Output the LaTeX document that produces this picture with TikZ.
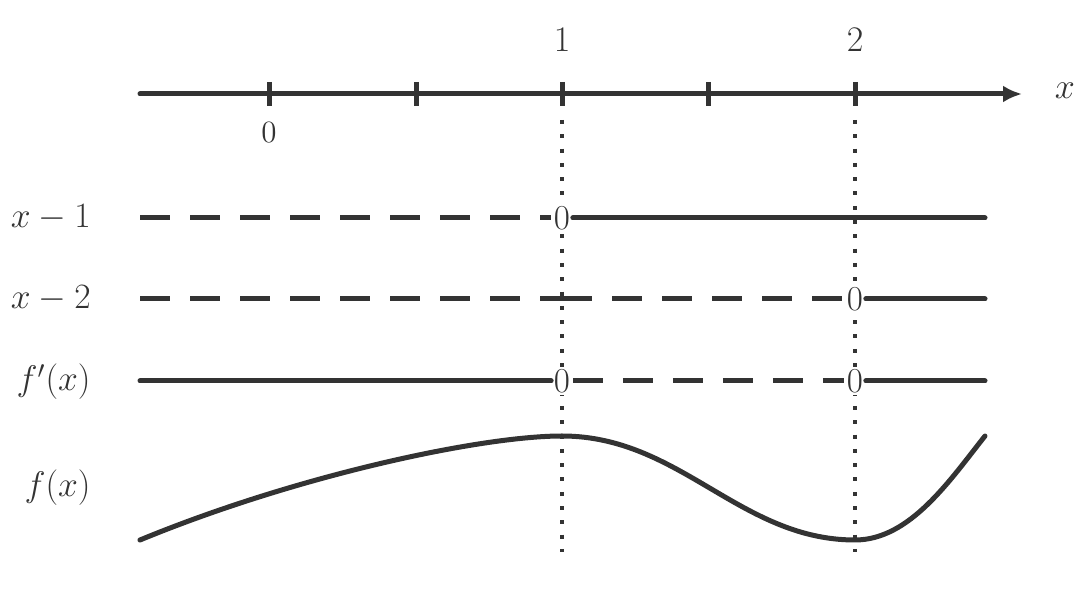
\RequirePackage{fix-cm}
\documentclass[tikz,border=0pt]{standalone}
\usetikzlibrary{arrows.meta}
\definecolor{ink}{HTML}{333333}
\begin{document}
\begin{tikzpicture}[x=0.5pt,y=-0.5pt, color=ink, text=ink,
  solidline/.style={line width=2.5pt, line cap=round},
  dashline/.style={line width=2.5pt, dash pattern=on 15pt off 10pt},
  dotline/.style={line width=2pt, dash pattern=on 2pt off 5.15pt},
  tickline/.style={line width=2.5pt},
  zero/.style={fill=white, inner sep=1.2pt, font=\fontsize{17.5}{20}\selectfont},
  rowlabel/.style={anchor=east, inner sep=0pt, font=\fontsize{17.8}{21}\selectfont},
  toplabel/.style={inner sep=0pt, font=\fontsize{18}{22}\selectfont},
  smalllabel/.style={inner sep=0pt, font=\fontsize{15.5}{18}\selectfont}]
\useasboundingbox (0,0) rectangle (1088,592);

% axis
\coordinate (ax0) at (140,94);
\coordinate (ax1) at (1022,94);
\draw[solidline, -{Latex[length=9.5pt,width=8.5pt]}] (ax0) -- (ax1);
\node[toplabel] (xl) at (1065,91) {$x$};

% ticks
\foreach \n/\px in {t0/269, t1/416, t2/562, t3/708, t4/855} {
  \coordinate (\n a) at (\px,82);
  \coordinate (\n b) at (\px,106);
  \draw[tickline] (\n a) -- (\n b);
}
\node[smalllabel] (l0) at (269,133) {$0$};
\node[toplabel] (l1) at (562,40) {$1$};
\node[toplabel] (l2) at (855,40) {$2$};

% dotted verticals
\coordinate (d1a) at (562,120);
\coordinate (d1b) at (562,552);
\coordinate (d2a) at (855,120);
\coordinate (d2b) at (855,552);
\draw[dotline] (d1a) -- (d1b);
\draw[dotline] (d2a) -- (d2b);

% row labels
\node[rowlabel] (r1l) at (91,218) {$x-1$};
\node[rowlabel] (r2l) at (91,299) {$x-2$};
\node[rowlabel] (r3l) at (91,382) {$f'(x)$};
\node[rowlabel] (r4l) at (91,488) {$f(x)$};

% zero nodes
\node[zero] (z11) at (562,218) {$0$};
\node[zero] (z22) at (855,299) {$0$};
\node[zero] (z31) at (562,381) {$0$};
\node[zero] (z32) at (855,381) {$0$};

% row 1
\coordinate (r1s) at (140,218);
\coordinate (r1e) at (985,218);
\draw[dashline] (r1s) -- (z11.west);
\draw[solidline] (z11.east) -- (r1e);

% row 2
\coordinate (r2s) at (140,299);
\coordinate (r2m) at (562,299);
\coordinate (r2e) at (985,299);
\draw[dashline] (r2s) -- (r2m);
\draw[dashline] (r2m) -- (z22.west);
\draw[solidline] (z22.east) -- (r2e);

% row 3
\coordinate (r3s) at (140,381);
\coordinate (r3e) at (985,381);
\draw[solidline] (r3s) -- (z31.west);
\draw[dashline] (z31.east) -- (z32.west);
\draw[solidline] (z32.east) -- (r3e);

% curve
\coordinate (c0) at (140,540);
\coordinate (cmax) at (562,436);
\coordinate (cmin) at (855,540);
\coordinate (c1) at (985,436);
\draw[solidline] (c0) .. controls (295,476) and (480,436) .. (cmax)
  .. controls (680,436) and (740,540) .. (cmin)
  .. controls (910,540) and (950,480) .. (c1);
\end{tikzpicture}
\end{document}
